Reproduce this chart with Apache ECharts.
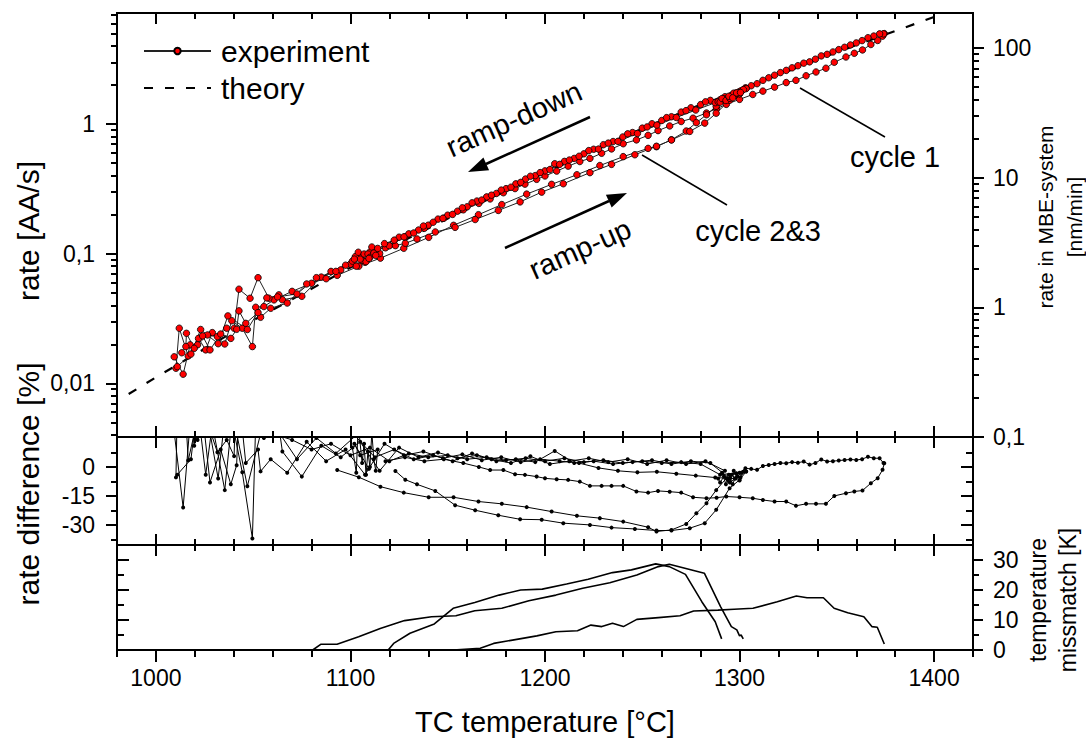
<!DOCTYPE html>
<html>
<head>
<meta charset="utf-8">
<script src="https://cdn.jsdelivr.net/npm/echarts@6/dist/echarts.min.js"></script>
<style>html,body{margin:0;padding:0;background:#fff}#c{width:1086px;height:747px}</style>
</head>
<body>
<div id="c"></div>
<script>
// ---------------- DATA ----------------
// tick labels / tick values
const xLabels = [1000, 1100, 1200, 1300, 1400];
const xMinor = [980,1000,1020,1040,1060,1080,1100,1120,1140,1160,1180,1200,1220,1240,1260,1280,1300,1320,1340,1360,1380,1400,1420];
const rateTicks = [0.01, 0.1, 1];
const rateMinor = [0.004,0.005,0.006,0.007,0.008,0.009,0.02,0.03,0.04,0.05,0.06,0.07,0.08,0.09,0.2,0.3,0.4,0.5,0.6,0.7,0.8,0.9,2,3,4,5,6,7];
const mbeTicks = [0.1, 1, 10, 100];
const mbeMinor = [0.2,0.3,0.4,0.5,0.6,0.7,0.8,0.9,2,3,4,5,6,7,8,9,20,30,40,50,60,70,80,90];
const diffTicks = [0, -15, -30];
const diffMinor = [7.5, -7.5, -22.5, -37.5];
const mmTicks = [0, 10, 20, 30];
const mmMinor = [5, 15, 25];

// theory curve
const thT    = [986, 1000, 1050, 1100, 1150, 1200, 1250, 1300, 1350, 1405, 1410];
const thRate = [0.00826, 0.01112, 0.0306, 0.0782, 0.1871, 0.4227, 0.9036, 1.841, 3.589, 7.15, 7.59];

// cycle 1 ramp-up
const c1T = [1118,1128,1138,1148,1158,1166,1171.8,1178.6,1184.6,1189.7,1195.7,1200,1206,1211.9,1217.9,1223.1,1229.1,1234.2,1240.2,1247,1253,1258.1,1264.1,1270,1276.1,1283,1288.2,1293.2,1300,1306.8,1312,1318,1324,1329,1334.2,1339.3,1344.4,1348.7,1354.7,1359,1363.2,1367.5,1371,1373.5,1374.4];
const c1Rate = [0.1110,0.1348,0.1571,0.1880,0.2180,0.2443,0.2645,0.2953,0.3180,0.3442,0.3749,0.3978,0.4340,0.4737,0.5144,0.5439,0.5956,0.6429,0.7055,0.7548,0.8188,0.8909,0.9675,1.0473,1.1111,1.2185,1.3152,1.4204,1.552,1.6925,1.7966,1.929,2.0917,2.1769,2.360,2.5235,2.6982,3.000,3.2947,3.5195,3.733,4.113,4.4206,4.770,4.991];
const c1Diff = [3,5,3,4,2,0,-1.6,-1.6,-3.8,-4.1,-5,-5.9,-6.4,-6.7,-7.6,-9.8,-9.8,-9.8,-9.8,-12.7,-13.3,-12.4,-12.8,-13.3,-15.7,-16.2,-15.9,-15.3,-15.7,-16.2,-17.1,-17.9,-17.9,-20.1,-19.1,-19.1,-19.1,-15,-13.6,-12.7,-12.2,-8.4,-5.8,-1.5,1.9];

// ramp-down 1
const rd1T = [1374,1372,1369,1366,1363,1360,1357,1354,1351,1348,1345,1342,1339,1336,1333,1330,1327,1324,1321,1318,1315,1312,1309,1306,1303,1300,1290,1280,1270,1260,1250,1240,1230,1220,1210,1200,1190,1180,1170,1160,1150,1140,1130,1120,1110,1100,1090,1080,1070,1060.7,1055.5,1051.3,1049.6,1044.4,1039,1035.4,1029,1025.6,1021.9,1016.6,1012,1010.3];
const rd1Rate = [4.97,4.97,4.78,4.64,4.41,4.23,4.08,3.915,3.756,3.602,3.455,3.359,3.169,3.023,2.952,2.822,2.718,2.597,2.497,2.383,2.279,2.177,2.050,1.977,1.903,1.786,1.539,1.414,1.238,1.066,0.9307,0.7954,0.6933,0.5898,0.5154,0.4354,0.3768,0.3176,0.2743,0.2302,0.1983,0.1660,0.1423,0.1151,0.1029,0.0829,0.0730,0.0591,0.0512,0.0440,0.0391,0.0386,0.0192,0.0266,0.0304,0.0201,0.0246,0.0181,0.0222,0.01625,0.0266,0.01306];
const rd1Diff = [2,4.5,4.5,5.3,4,3.6,3.9,3.6,3.3,3,2.8,3.9,2,1.2,2.8,2.2,2.5,1.9,2,1.5,1,0.5,-1.5,-1,-0.7,-3,-4,1.5,2.5,2,3,2,3.5,2.5,4.5,3,4.5,3.5,5,4,6,5,7,3,10,6,12,9,14,17,15,23,-37,-2.8,24,-12,22,-4,27,3.4,86,-5.4];

// cycle 2 ramp-up
const c2T = [1093.2,1104.3,1115.4,1127.4,1140.2,1153,1165.8,1177.8,1190.6,1203.4,1216.4,1228.2,1240.2,1253,1257.3,1265,1272.6,1277.8,1283,1288,1293.2,1298.3,1303.4];
const c2Rate = [0.0681,0.0801,0.0924,0.1101,0.1337,0.1656,0.1999,0.2394,0.2883,0.3429,0.4066,0.4789,0.5608,0.6497,0.6694,0.7572,0.8844,1.0264,1.1806,1.3722,1.578,1.740,1.884];
const c2Diff = [-1.6,-5.3,-10.2,-13.3,-15.7,-15.7,-17.9,-19.1,-20.8,-23.1,-25.3,-26.5,-28.3,-31.2,-33.4,-32.6,-29.5,-24,-18.8,-12,-5.9,-3.3,-2.4];

// ramp-down 2
const rd2T = [1295,1285,1275,1265,1255,1245,1235,1225,1215,1205,1195,1185,1175,1165,1155,1145,1135,1125,1115,1105,1095,1085,1075,1065,1063.2,1058.1,1052.5,1048.4,1042.7,1040.2,1036.4,1031.6,1026.5,1021.4,1017.6,1014,1009.4];
const rd2Rate = [1.615,1.524,1.336,1.140,1.006,0.8604,0.7336,0.6395,0.5434,0.4945,0.4002,0.3460,0.2916,0.2548,0.2127,0.1849,0.1523,0.1341,0.1002,0.0966,0.0750,0.0660,0.0469,0.0441,0.0481,0.0453,0.0653,0.0453,0.0532,0.0266,0.0266,0.0229,0.0236,0.0198,0.0198,0.01175,0.0160];
const rd2Diff = [-6,2,3,1.5,3.5,2.5,1.5,3,2,8.3,2.5,4,3,6,4.5,7.5,5,10,-2,13,5,11,-5,8,21,26,103,52,100,5.6,14,7.6,23,14,23,-21,18];

// cycle 3 ramp-up
const c3T = [1123.1,1128.2,1134.2,1143.6,1153.8,1164.1,1176,1187.2,1198.3,1209.4,1223.1,1234.2,1246.2,1257.3,1265,1274.4,1282.1,1288,1294.9,1300,1303.4];
const c3Rate = [0.1154,0.1203,0.1300,0.1471,0.1597,0.1835,0.2157,0.2510,0.2986,0.3465,0.4221,0.4890,0.5801,0.6744,0.7539,0.8783,1.0178,1.2131,1.5268,1.7177,1.884];
const c3Diff = [-2.1,-6.6,-9,-12.4,-19.8,-22.4,-25,-27.1,-27.3,-29.1,-30,-31.4,-32.1,-32.9,-32.9,-31.7,-29.1,-22.2,-11,-6.7,-2.4];

// ramp-down 3
const rd3T = [1297.5,1287.5,1277.5,1267.5,1257.5,1247.5,1237.5,1227.5,1217.5,1207.5,1197.5,1187.5,1177.5,1167.5,1157.5,1147.5,1137.5,1127.5,1117.5,1107.5,1097.5,1087.5,1077.5,1067.5,1059,1053.8,1052.5,1046.2,1042.7,1041.5,1038.5,1033.3,1027.8,1024,1019.7,1015.7,1015.4,1013.3];
const rd3Rate = [1.672,1.4626,1.2837,1.1242,0.9825,0.8465,0.7358,0.6417,0.5647,0.4888,0.4224,0.3551,0.3095,0.2594,0.2260,0.1875,0.1635,0.1349,0.1196,0.0858,0.0815,0.0641,0.0584,0.0416,0.0379,0.0323,0.0351,0.0290,0.0362,0.0261,0.0222,0.0240,0.0181,0.0232,0.0186,0.0243,0.0192,0.0172];
const rd3Diff = [-6,-5.5,-4.5,-3.5,-2.5,-2.8,-2,-0.5,2,3,4,2.5,5,3.5,6.5,4.5,8,6,12,-4,9,3,13,-3,4,-2.3,9,2,36,0.9,-9,9,-8,27,11,58,25,17];

// ramp-down 4
const rd4T = [1292.5,1282.5,1272.5,1262.5,1252.5,1242.5,1232.5,1222.5,1212.5,1202.5,1192.5,1182.5,1172.5,1162.5,1152.5,1142.5,1132.5,1122.5,1112.5,1102.5,1092.5,1082.5,1072.5,1062.5,1057,1047,1037,1032,1023,1018,1011];
const rd4Rate = [1.626,1.486,1.2706,1.1215,0.9511,0.8415,0.7132,0.6246,0.5280,0.4459,0.3958,0.3259,0.2828,0.2468,0.2010,0.1748,0.1445,0.1272,0.1026,0.0949,0.0730,0.0653,0.0489,0.0464,0.0456,0.0260,0.0331,0.0202,0.0260,0.0168,0.01344];
const rd4Diff = [-2,3,1.5,3.5,1.5,4,2.5,4.5,3,1.5,5.5,2,4,7,3,6,4,9,5,16,7,15,4,19,30,-10,40,-6,45,4,-4];

// dwell clusters
const cl1T = [1101,1103,1104,1106,1107,1108,1109,1110,1111,1112,1113,1114,1105,1102,1109.5];
const cl1Rate = [0.0876,0.0801,0.1026,0.0889,0.0994,0.0868,0.0994,0.0937,0.1126,0.1011,0.0970,0.1098,0.0907,0.0908,0.0919];
const cl1Diff = [10,-3,22,2,12,-4,8,0,18,4,-2,9,6,12,-1];
const cl2T = [1289,1290,1292,1294,1291,1293,1296,1298,1295,1297,1299,1301,1300,1302,1294.5,1296.5,1298.5,1300.5];
const cl2Rate = [1.486,1.475,1.566,1.576,1.576,1.521,1.672,1.684,1.581,1.732,1.726,1.812,1.713,1.847,1.639,1.596,1.741,1.753];
const cl2Diff = [-6,-8,-5,-7,-3,-9,-4,-6,-8,-2,-5,-3,-7,-2.5,-4,-9,-3.5,-5.5];

// temperature mismatch [K]
const mmAT = [1080.6,1084.7,1093.1,1104.2,1115.3,1127.8,1141.7,1154.2,1163.9,1177.8,1191.7,1205.6,1219.4,1233.3,1247.2,1258.3,1263.9,1281.9,1290.3,1295.8,1298.6,1300,1300.8,1301.9];
const mmA  = [0,1.9,1.9,4.4,7.2,9.8,11.1,11.4,13.1,13.9,16.4,18.3,20.6,22.4,25,27.8,28.6,25.6,14.4,7.8,6.7,4.7,5,3.7];
const mmBT = [1119.4,1122.2,1130.6,1143.1,1152.8,1163.9,1176.4,1187.5,1198.6,1211.1,1222.2,1234.7,1244.4,1256.9,1263.9,1272.2,1280.6,1287.5,1290.8];
const mmB  = [0,2.2,5.6,8.7,13.9,15.8,18.3,20,20.3,22,23.6,25.8,26.7,28.7,27.8,25.2,16.1,9.4,3.7];
const mmCT = [1152.8,1166.7,1173.6,1183.3,1195.8,1205.6,1216.7,1223.6,1229.2,1234.7,1240.3,1247.2,1258.3,1269.4,1276.4,1288.9,1297.2,1306.9,1319.4,1329.2,1334.7,1343.1,1348.6,1355.6,1363.9,1368,1370.8,1374.4];
const mmC  = [0,0.6,2.2,3.3,4.7,6.1,6.4,8.3,7.8,8.9,7.8,10.2,10.8,11.4,13,13.3,13.6,13.9,16.1,18,17.4,17.4,13.9,12.4,11.1,7.8,7.6,2];

// ---------------- CHART ----------------
const FONT = 'Arial, "Liberation Sans", Helvetica, sans-serif';
const AX = {color: '#000', width: 2};
const pair = (ts, vs) => ts.map((t, i) => [t, vs[i]]);
const fmt = v => String(+(+v).toPrecision(6)).replace('.', ',');

function xAx(g, pos, vals, len, inside, labels) {
  return {
    type: 'value', gridIndex: g, position: pos, min: 980, max: 1420,
    axisLine: {show: true, onZero: false, lineStyle: AX},
    axisTick: {show: true, inside: inside, length: len, customValues: vals, lineStyle: AX},
    axisLabel: labels ? {show: true, customValues: labels, margin: 16, fontSize: 23, color: '#000', fontFamily: FONT, formatter: fmt} : {show: false},
    splitLine: {show: false}
  };
}
function yAx(g, pos, type, min, max, vals, len, inside, labels, margin) {
  return {
    type: type, gridIndex: g, position: pos, min: min, max: max,
    axisLine: {show: true, onZero: false, lineStyle: AX},
    axisTick: {show: true, inside: inside, length: len, customValues: vals, lineStyle: AX},
    axisLabel: labels ? {show: true, customValues: labels, margin: margin || 22, fontSize: 23, color: '#000', fontFamily: FONT, formatter: fmt} : {show: false},
    splitLine: {show: false}, minorTick: {show: false}
  };
}

const xAxes = [];
for (let g = 0; g < 3; g++) {
  const outerBottom = g === 2;
  xAxes.push(xAx(g, 'bottom', xLabels, outerBottom ? 12 : 11, !outerBottom, outerBottom ? xLabels : null));
  xAxes.push(xAx(g, 'bottom', xMinor, outerBottom ? 7 : 6, !outerBottom, null));
  xAxes.push(xAx(g, 'top', xLabels, 11, true, null));
  xAxes.push(xAx(g, 'top', xMinor, 6, true, null));
}
const yAxes = [
  yAx(0, 'left', 'log', 0.00385, 7.2, rateTicks, 11, false, rateTicks, 22),
  yAx(0, 'left', 'log', 0.00385, 7.2, rateMinor, 6, false, null),
  yAx(0, 'right', 'log', 0.1, 187, mbeTicks, 11, false, mbeTicks, 20),
  yAx(0, 'right', 'log', 0.1, 187, mbeMinor, 6, false, null),
  yAx(1, 'left', 'value', -40.4, 15.5, diffTicks, 11, false, diffTicks, 22),
  yAx(1, 'left', 'value', -40.4, 15.5, diffMinor, 6, false, null),
  yAx(1, 'right', 'value', -40.4, 15.5, diffTicks, 12, true, null),
  yAx(1, 'right', 'value', -40.4, 15.5, diffMinor, 7, true, null),
  yAx(2, 'right', 'value', 0, 35, mmTicks, 10, false, mmTicks, 20),
  yAx(2, 'right', 'value', 0, 35, mmMinor, 6, false, null),
  yAx(2, 'left', 'value', 0, 35, mmTicks, 12, true, null),
  yAx(2, 'left', 'value', 0, 35, mmMinor, 7, true, null)
];

const branches = [
  [c1T, c1Rate, c1Diff], [rd1T, rd1Rate, rd1Diff], [c2T, c2Rate, c2Diff], [rd2T, rd2Rate, rd2Diff],
  [c3T, c3Rate, c3Diff], [rd3T, rd3Rate, rd3Diff], [rd4T, rd4Rate, rd4Diff],
  [cl1T, cl1Rate, cl1Diff], [cl2T, cl2Rate, cl2Diff]
];

const series = [];
series.push({
  name: 'theory', type: 'line', xAxisIndex: 0, yAxisIndex: 0, data: pair(thT, thRate),
  symbol: 'none', smooth: false, z: 1,
  itemStyle: {color: 'rgba(0,0,0,0)'},
  lineStyle: {color: '#000', width: 2.2, type: [9, 12]}
});
branches.forEach(b => {
  series.push({
    name: 'experiment', type: 'line', xAxisIndex: 0, yAxisIndex: 0, data: pair(b[0], b[1]),
    symbol: 'circle', symbolSize: 6.5, showSymbol: true, z: 3,
    itemStyle: {color: '#ff0000', borderColor: '#000', borderWidth: 0.8},
    lineStyle: {color: '#222', width: 1}
  });
  series.push({
    type: 'line', xAxisIndex: 4, yAxisIndex: 4, data: pair(b[0], b[2]),
    symbol: 'circle', symbolSize: 4, z: 3,
    itemStyle: {color: '#000'}, lineStyle: {color: '#000', width: 1}
  });
});
[[mmAT, mmA], [mmBT, mmB], [mmCT, mmC]].forEach(m => {
  series.push({
    type: 'line', xAxisIndex: 8, yAxisIndex: 8, data: pair(m[0], m[1]),
    symbol: 'none', lineStyle: {color: '#000', width: 1.6}
  });
});

function txt(text, x, y, size, rot, extra) {
  return {type: 'text', x: x, y: y, rotation: rot || 0, z: 100,
    style: Object.assign({text: text, fontSize: size, fontFamily: FONT, fill: '#000',
      align: 'center', verticalAlign: 'middle', textAlign: 'center', textVerticalAlign: 'middle'}, extra || {})};
}
function seg(x1, y1, x2, y2, w) {
  return {type: 'line', z: 100, shape: {x1: x1, y1: y1, x2: x2, y2: y2}, style: {stroke: '#000', lineWidth: w}};
}
const R = Math.PI / 180;
const graphics = [
  txt('TC temperature [°C]', 545, 722, 29),
  txt('rate [AA/s]', 28, 231, 30, 90 * R),
  txt('rate difference [%]', 28, 484, 30, 90 * R),
  txt('rate in MBE-system\n[nm/min]', 1060, 217, 21, 90 * R, {lineHeight: 29}),
  txt('temperature\nmissmatch [K]', 1053, 600, 23, 90 * R, {lineHeight: 30}),
  txt('ramp-down', 514, 119, 29, 24 * R),
  txt('ramp-up', 580, 249, 29, 24 * R),
  txt('cycle 1', 895, 157, 29),
  txt('cycle 2&3', 758, 231, 29),
  seg(590, 117, 486, 164, 2.5),
  {type: 'polygon', z: 100, shape: {points: [[468, 172], [483.4, 157.4], [489.1, 170.2]]}, style: {fill: '#000'}},
  seg(505, 248, 609, 201, 2.5),
  {type: 'polygon', z: 100, shape: {points: [[627, 193], [611.7, 207.6], [605.9, 194.8]]}, style: {fill: '#000'}},
  seg(800, 88, 885, 137, 1.5),
  seg(642, 155, 727, 205, 1.5)
];

const chart = echarts.init(document.getElementById('c'), null, {renderer: 'svg'});
chart.setOption({
  animation: false,
  backgroundColor: '#fff',
  textStyle: {fontFamily: FONT},
  grid: [
    {left: 117, top: 13, width: 856, height: 424},
    {left: 117, top: 437, width: 856, height: 108},
    {left: 117, top: 545, width: 856, height: 105}
  ],
  legend: {
    data: ['experiment', 'theory'], orient: 'vertical', left: 138, top: 31,
    itemWidth: 67, itemHeight: 8, itemGap: 7,
    textStyle: {fontSize: 30, color: '#000', fontFamily: FONT, padding: [0, 0, 0, 5]}
  },
  xAxis: xAxes,
  yAxis: yAxes,
  series: series,
  graphic: graphics
});
</script>
</body>
</html>
